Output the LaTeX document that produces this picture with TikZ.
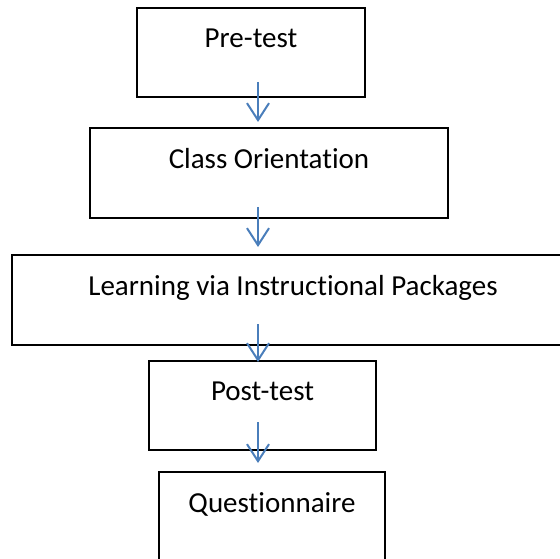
\documentclass[tikz,border=0pt]{standalone}
\usepackage{fontspec}
\setmainfont[Ligatures=NoCommon]{Carlito}
\usetikzlibrary{arrows.meta}
\definecolor{arrowblue}{RGB}{74,126,187}
\begin{document}
\begin{tikzpicture}[x=1pt,y=-1pt,
  stepbox/.style={draw=black, line width=1.6pt, rectangle, inner sep=0pt},
  lbl/.style={anchor=base, inner sep=0pt, font=\fontsize{29}{34}\selectfont},
  flow/.style={draw=arrowblue, line width=2pt, -{Straight Barb[length=17pt,width=22pt]}}]
\useasboundingbox (0,0) rectangle (560,559);
% boxes
\node[stepbox, minimum width=228pt, minimum height=89pt] (b1) at (251,52.5) {};
\node[stepbox, minimum width=358pt, minimum height=90pt] (b2) at (269,173) {};
\node[stepbox, minimum width=562pt, minimum height=90pt] (b3) at (293,300) {};
\node[stepbox, minimum width=227pt, minimum height=89pt] (b4) at (262.5,405.5) {};
\node[stepbox, minimum width=226pt, minimum height=89pt] (b5) at (272,516.5) {};
% labels
\node[lbl] (t1) at (251,48) {Pre-test};
\node[lbl] (t2) at (269,168) {Class Orientation};
\node[lbl] (t3) at (293,295) {Learning via Instructional Packages};
\node[lbl] (t4) at (262.5,400) {Post-test};
\node[lbl] (t5) at (272,512) {Questionnaire};
% arrow ends
\coordinate (a1s) at (258,82);  \coordinate (a1e) at (258,122);
\coordinate (a2s) at (258,207); \coordinate (a2e) at (258,247);
\coordinate (a3s) at (258,324); \coordinate (a3e) at (258,362);
\coordinate (a4s) at (258,422); \coordinate (a4e) at (258,463);
\draw[flow] (a1s) -- (a1e);
\draw[flow] (a2s) -- (a2e);
\draw[flow] (a3s) -- (a3e);
\draw[flow] (a4s) -- (a4e);
\end{tikzpicture}
\end{document}
